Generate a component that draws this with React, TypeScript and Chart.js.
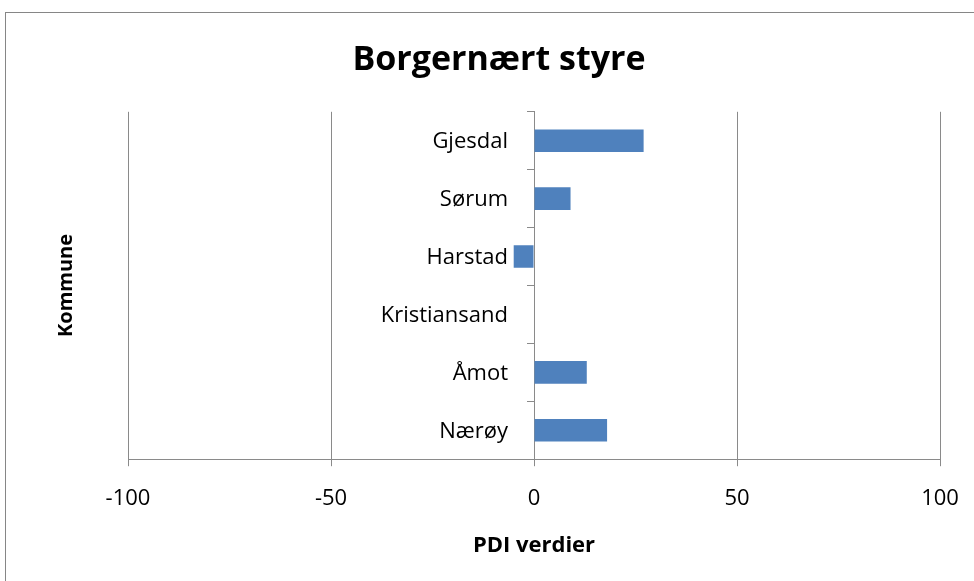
import React, { useEffect, useRef } from "react";
import { Chart, registerables } from "chart.js";

Chart.register(...registerables);

const categories = ["Gjesdal", "Sørum", "Harstad", "Kristiansand", "Åmot", "Nærøy"];
const values = [27, 9, -5, 0, 13, 18];
const xMin = -100;
const xMax = 100;
const xStep = 50;

const FONT = "'Open Sans', 'DejaVu Sans', sans-serif";
const GRID = "#8a8a8a";

// Draws the category names just left of the value axis at x = 0
const categoryLabelsAtZero = {
  id: "categoryLabelsAtZero",
  afterDraw(chart: any) {
    const xs = chart.scales.x;
    const ys = chart.scales.y;
    const ctx = chart.ctx;
    const labels: string[] = chart.data.labels;
    const x0 = xs.getPixelForValue(0);
    ctx.save();
    ctx.font = `22px ${FONT}`;
    ctx.fillStyle = "#000";
    ctx.textAlign = "right";
    ctx.textBaseline = "middle";
    labels.forEach((lab, i) => {
      ctx.fillText(lab, x0 - 26, ys.getPixelForValue(i) + 1);
    });
    ctx.restore();
  },
};

export default function App() {
  const ref = useRef<HTMLCanvasElement | null>(null);

  useEffect(() => {
    if (!ref.current) return;
    const chart = new Chart(ref.current, {
      type: "bar",
      data: {
        labels: categories,
        datasets: [
          {
            data: values,
            backgroundColor: "#4F81BD",
            borderColor: "#4F81BD",
            borderWidth: 0,
            categoryPercentage: 1,
            barPercentage: 0.39,
          },
        ],
      },
      options: {
        indexAxis: "y",
        animation: false,
        responsive: true,
        maintainAspectRatio: false,
        layout: { padding: { left: 52, right: 50, top: 0, bottom: 0 } },
        plugins: {
          legend: { display: false },
          tooltip: { enabled: false },
          title: {
            display: true,
            text: "Borgernært styre",
            color: "#000",
            font: { family: FONT, size: 34, weight: "bold" },
            padding: { top: 27, bottom: 31 },
          },
        },
        scales: {
          x: {
            type: "linear",
            min: xMin,
            max: xMax,
            ticks: {
              stepSize: xStep,
              color: "#000",
              font: { family: FONT, size: 22 },
              padding: 19,
            },
            grid: { color: GRID, lineWidth: 1, tickLength: 7, drawTicks: true },
            border: { color: GRID, width: 1 },
            title: {
              display: true,
              text: "PDI verdier",
              color: "#000",
              font: { family: FONT, size: 22, weight: "bold" },
              padding: { top: 2, bottom: 23 },
            },
          },
          y: {
            type: "category",
            position: { x: 0 },
            offset: true,
            ticks: { display: false },
            grid: { drawOnChartArea: false, color: GRID, tickLength: 7, offset: true },
            border: { color: GRID, width: 1 },
          },
          y2: {
            type: "category",
            position: "left",
            display: true,
            ticks: { display: false },
            grid: { display: false, drawTicks: false },
            border: { display: false },
            title: {
              display: true,
              text: "Kommune",
              color: "#000",
              font: { family: FONT, size: 20, weight: "bold" },
              padding: { top: -4, bottom: 50 },
            },
          },
        },
      },
      plugins: [categoryLabelsAtZero],
    });
    return () => chart.destroy();
  }, []);

  return (
    <div
      style={{
        position: "fixed",
        left: 0,
        top: 0,
        width: 974,
        height: 581,
        overflow: "hidden",
        background: "#fff",
      }}
    >
      <div
        style={{
          position: "absolute",
          left: 5,
          top: 12,
          width: 1000,
          height: 620,
          border: "1px solid #868686",
          background: "#fff",
        }}
      >
        <div style={{ position: "absolute", left: 0, top: 0, width: 984, height: 569 }}>
          <canvas ref={ref} />
        </div>
      </div>
    </div>
  );
}
